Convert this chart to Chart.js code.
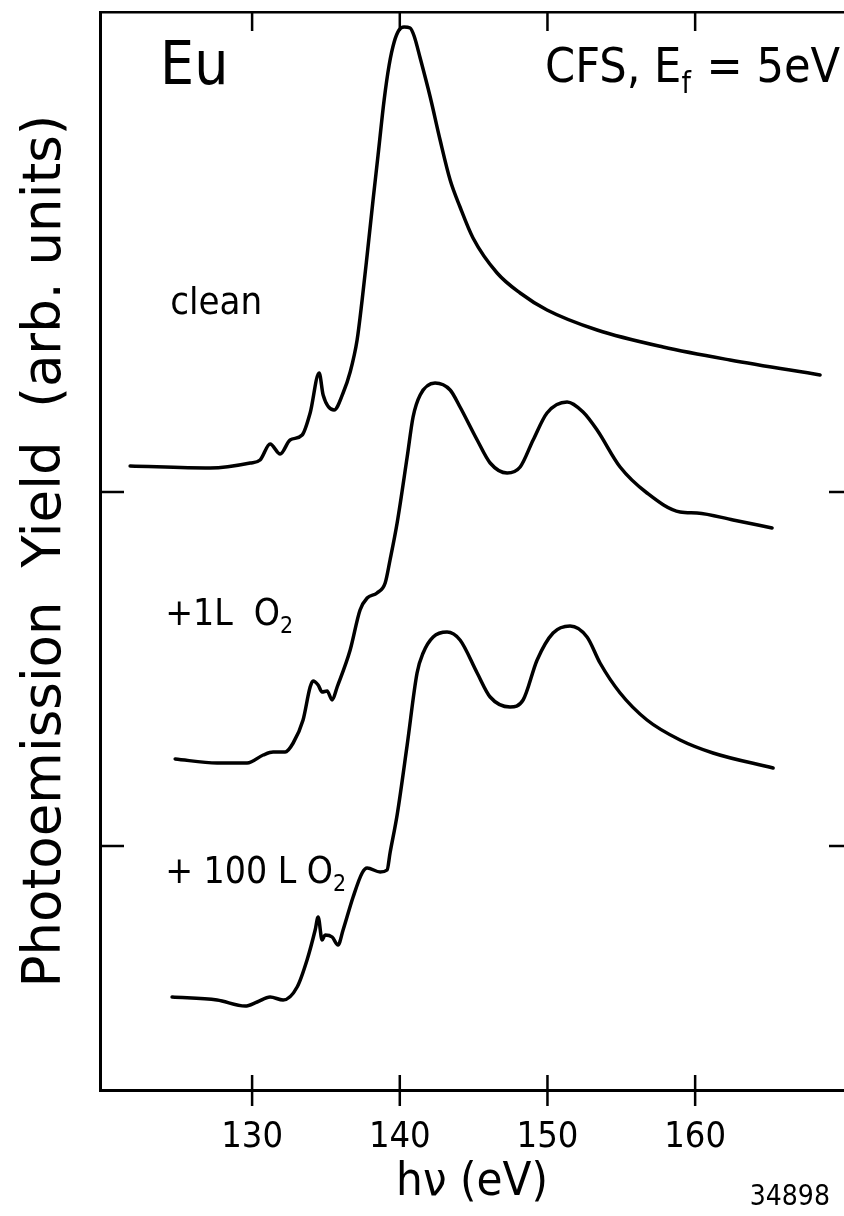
<!DOCTYPE html>
<html><head><meta charset="utf-8">
<script src="https://cdn.jsdelivr.net/npm/chart.js@4/dist/chart.umd.min.js"></script>
<style>html,body{margin:0;padding:0;background:#fff;}#wrap{width:844px;height:1216px;}</style>
</head><body><div id="wrap"><canvas id="c" width="844" height="1216"></canvas></div>
<script>
// photon energy (eV) and yield (arb. units)
const cleanE = [121.74,127.16,129.87,130.54,131.22,131.90,132.57,133.39,133.93,134.54,134.81,135.55,136.16,136.64,137.11,137.45,137.79,138.19,138.53,138.94,139.28,139.62,139.95,140.29,140.70,140.97,141.38,142.06,142.73,143.41,144.08,144.96,146.59,148.15,149.97,153.36,157.83,162.36,168.46];
const cleanY = [624,622,627,630,646,636,650,655,677,717,695,680,697,718,750,790,835,890,935,990,1025,1048,1060,1063,1062,1054,1032,993,950,910,883,852,817,797,780,760,743,730,715];

const oneLE = [124.79,127.63,129.66,130.75,131.42,132.24,132.78,133.45,133.93,134.13,134.47,134.74,135.08,135.42,135.76,136.64,137.31,137.79,138.46,139.01,139.34,139.82,140.50,140.90,141.38,142.39,143.41,144.08,145.24,146.12,147.27,148.15,149.03,149.97,151.33,152.41,153.36,154.92,156.74,158.98,160.13,162.57,165.21];
const oneLY = [331,327,327,335,338,338,347,370,403,409,405,398,399,390,403,440,480,492,497,507,530,567,633,673,695,707,700,683,650,627,617,623,650,677,688,678,660,623,597,578,577,570,562];

const hundredLE = [124.58,127.63,129.53,130.34,131.22,132.10,133.05,133.72,134.27,134.47,134.74,134.94,135.42,135.82,136.16,136.84,137.45,137.79,138.67,139.14,139.34,139.82,140.50,141.17,141.58,142.26,143.20,144.08,145.24,146.12,147.47,148.35,149.30,150.38,151.53,152.68,153.56,154.92,156.74,158.98,161.21,165.28];
const hundredLY = [93,90,84,88,93,90,103,130,160,173,150,155,153,145,160,193,217,222,218,220,237,275,345,417,437,453,458,450,417,393,383,390,430,457,464,453,427,397,370,350,337,322];

const xTickValues = [130, 140, 150, 160];
const yTickValues = [244, 598];

const FONT = '"DejaVu Sans Condensed","DejaVu Sans",sans-serif';
const WIDE_FONT = '"DejaVu Sans",sans-serif';

const toPts = (xs, ys) => xs.map((v, i) => ({x: v, y: ys[i]}));

// text labels placed in data coordinates
const notes = [
  {parts: [['Eu', 0]], x: 123.77, y: 1006, size: 60},
  {parts: [['CFS, E', 0], ['f', 1], [' = 5eV', 0]], x: 149.84, y: 1008, size: 48},
  {parts: [['clean', 0]], x: 124.45, y: 776, size: 38},
  {parts: [['+1L  O', 0], ['2', 1]], x: 124.11, y: 465, size: 37},
  {parts: [['+ 100 L O', 0], ['2', 1]], x: 124.11, y: 207, size: 37},
  {parts: [['34898', 0]], x: 163.7, y: -115, size: 28}
];

const decor = {
  id: 'decor',
  afterDraw(chart) {
    const {ctx, chartArea: a, scales: {x, y}} = chart;
    ctx.save();
    ctx.strokeStyle = '#000';
    ctx.lineWidth = 2.5;
    ctx.beginPath();
    x.ticks.forEach(t => {
      const p = x.getPixelForValue(t.value);
      ctx.moveTo(p, a.bottom - 15); ctx.lineTo(p, a.bottom + 16);
      ctx.moveTo(p, a.top); ctx.lineTo(p, a.top + 19);
    });
    y.ticks.forEach(t => {
      const p = y.getPixelForValue(t.value);
      ctx.moveTo(a.left, p); ctx.lineTo(a.left + 24, p);
      ctx.moveTo(a.right - 15, p); ctx.lineTo(a.right, p);
    });
    ctx.stroke();
    ctx.fillStyle = '#000';
    ctx.textBaseline = 'alphabetic';
    ctx.textAlign = 'left';
    notes.forEach(n => {
      let px = x.getPixelForValue(n.x);
      const py = y.getPixelForValue(n.y);
      n.parts.forEach(([t, sub]) => {
        const s = sub ? n.size * 0.62 : n.size;
        ctx.font = s + 'px ' + FONT;
        ctx.fillText(t, px, py + (sub ? n.size * 0.22 : 0));
        px += ctx.measureText(t).width + (sub ? 2 : 0);
      });
    });
    ctx.restore();
  }
};

const lineStyle = {borderColor: '#000', borderWidth: 3.5, pointRadius: 0, fill: false, cubicInterpolationMode: 'monotone', borderJoinStyle: 'round', borderCapStyle: 'round'};

new Chart(document.getElementById('c'), {
  type: 'line',
  data: {
    datasets: [
      Object.assign({label: 'clean', data: toPts(cleanE, cleanY)}, lineStyle),
      Object.assign({label: '+1L O2', data: toPts(oneLE, oneLY)}, lineStyle),
      Object.assign({label: '+100L O2', data: toPts(hundredLE, hundredLY)}, lineStyle)
    ]
  },
  options: {
    responsive: false,
    animation: false,
    devicePixelRatio: 1,
    layout: {padding: {top: 12, right: 0, bottom: 0, left: 0}},
    plugins: {legend: {display: false}, tooltip: {enabled: false}},
    scales: {
      x: {
        type: 'linear', position: 'bottom', min: 119.7, max: 170.08,
        afterBuildTicks: s => { s.ticks = xTickValues.map(v => ({value: v})); },
        afterFit: s => { s.height = 126; },
        grid: {display: false, drawTicks: false},
        border: {display: true, width: 3, color: '#000'},
        ticks: {color: '#000', padding: 26, font: {family: FONT, size: 36}, maxRotation: 0, callback: v => String(v)},
        title: {display: true, text: 'hν (eV)', color: '#000', font: {family: FONT, size: 47}, padding: {top: 0, bottom: 5}}
      },
      xTop: {
        type: 'linear', position: 'top', min: 119.7, max: 170.08,
        afterFit: s => { s.height = 0; },
        grid: {display: false, drawTicks: false},
        border: {display: true, width: 2.5, color: '#000'},
        ticks: {display: false}
      },
      y: {
        type: 'linear', position: 'left', min: 0, max: 1078,
        afterBuildTicks: s => { s.ticks = yTickValues.map(v => ({value: v})); },
        afterFit: s => { s.width = 100; },
        grid: {display: false, drawTicks: false},
        border: {display: true, width: 3, color: '#000'},
        ticks: {display: false},
        title: {display: true, text: 'Photoemission  Yield  (arb. units)', color: '#000', font: {family: WIDE_FONT, size: 53}, padding: {top: 14, bottom: 0}}
      }
    }
  },
  plugins: [decor]
});
</script></body></html>
